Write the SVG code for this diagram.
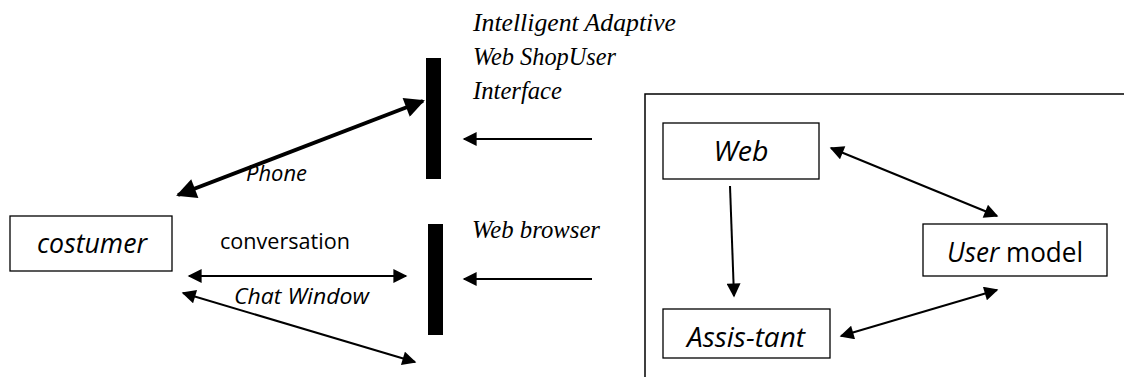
<svg xmlns="http://www.w3.org/2000/svg" width="1124" height="377" viewBox="0 0 1124 377">
<defs>
<style>
.box{fill:#fff;stroke:#000;stroke-width:1.3}
.bar{fill:#000}
.ln{stroke:#000;stroke-width:2;fill:none}
.thick{stroke:#000;stroke-width:4;fill:none}
.sans{font-family:"Open Sans","Liberation Sans",sans-serif;fill:#000}
.serif{font-family:"Liberation Serif",serif;font-style:italic;fill:#000;font-size:26px}
.it{font-style:italic}
</style>
<marker id="ah" viewBox="0 0 10 10" refX="9" refY="5" markerWidth="8" markerHeight="7" markerUnits="strokeWidth" orient="auto-start-reverse">
<path d="M0,0 L10,5 L0,10 z" fill="#000"/>
</marker>
<marker id="ahT" viewBox="0 0 10 10" refX="9" refY="5" markerWidth="5.5" markerHeight="5" markerUnits="strokeWidth" orient="auto-start-reverse">
<path d="M0,0 L10,5 L0,10 z" fill="#000"/>
</marker>
</defs>

<g id="system-frame">
<path d="M645,377 V94 H1124" fill="none" stroke="#000" stroke-width="1.5"/>
</g>

<g id="interface-bar-top"><rect class="bar" x="426" y="58" width="15" height="121"/></g>
<g id="interface-bar-bottom"><rect class="bar" x="428" y="224" width="15" height="111"/></g>

<g id="costumer">
<rect class="box" x="10" y="216" width="162" height="55"/>
<text class="sans it" x="92" y="253" font-size="27" text-anchor="middle" textLength="110" lengthAdjust="spacingAndGlyphs">costumer</text>
</g>

<g id="web">
<rect class="box" x="663" y="123" width="156" height="56"/>
<text class="sans it" x="741" y="161" font-size="27" text-anchor="middle" textLength="55" lengthAdjust="spacingAndGlyphs">Web</text>
</g>

<g id="user-model">
<rect class="box" x="923" y="224" width="184" height="52"/>
<text class="sans" x="1015" y="262" font-size="27" text-anchor="middle" textLength="136" lengthAdjust="spacingAndGlyphs"><tspan class="it">User</tspan> model</text>
</g>

<g id="assistant">
<rect class="box" x="663" y="309" width="167" height="49"/>
<text class="sans it" x="746" y="347" font-size="27" text-anchor="middle" textLength="118" lengthAdjust="spacingAndGlyphs">Assis-tant</text>
</g>

<g id="labels">
<text class="serif" x="473" y="31" textLength="203" lengthAdjust="spacingAndGlyphs">Intelligent Adaptive</text>
<text class="serif" x="473" y="65" textLength="143" lengthAdjust="spacingAndGlyphs">Web ShopUser</text>
<text class="serif" x="473" y="99" textLength="89" lengthAdjust="spacingAndGlyphs">Interface</text>
<text class="serif" x="472" y="238" textLength="128" lengthAdjust="spacingAndGlyphs">Web browser</text>
<text class="sans it" x="246" y="181" font-size="22" textLength="61" lengthAdjust="spacingAndGlyphs">Phone</text>
<text class="sans" x="220" y="249" font-size="22" textLength="130" lengthAdjust="spacingAndGlyphs">conversation</text>
<text class="sans it" x="234" y="304" font-size="22" textLength="135" lengthAdjust="spacingAndGlyphs">Chat Window</text>
</g>

<g id="connectors">
<line class="thick" x1="178" y1="195" x2="423" y2="101" marker-start="url(#ahT)" marker-end="url(#ahT)"/>
<line class="ln" x1="592" y1="139" x2="464" y2="139" marker-end="url(#ah)"/>
<line class="ln" x1="592" y1="279" x2="464" y2="279" marker-end="url(#ah)"/>
<line class="ln" x1="189" y1="276" x2="406" y2="276" marker-start="url(#ah)" marker-end="url(#ah)"/>
<line class="ln" x1="183" y1="293" x2="415" y2="362" marker-start="url(#ah)" marker-end="url(#ah)"/>
<line class="ln" x1="730" y1="186" x2="734" y2="296" marker-end="url(#ah)"/>
<line class="ln" x1="831" y1="148" x2="997" y2="216" marker-start="url(#ah)" marker-end="url(#ah)"/>
<line class="ln" x1="841" y1="336" x2="997" y2="290" marker-start="url(#ah)" marker-end="url(#ah)"/>
</g>
</svg>
